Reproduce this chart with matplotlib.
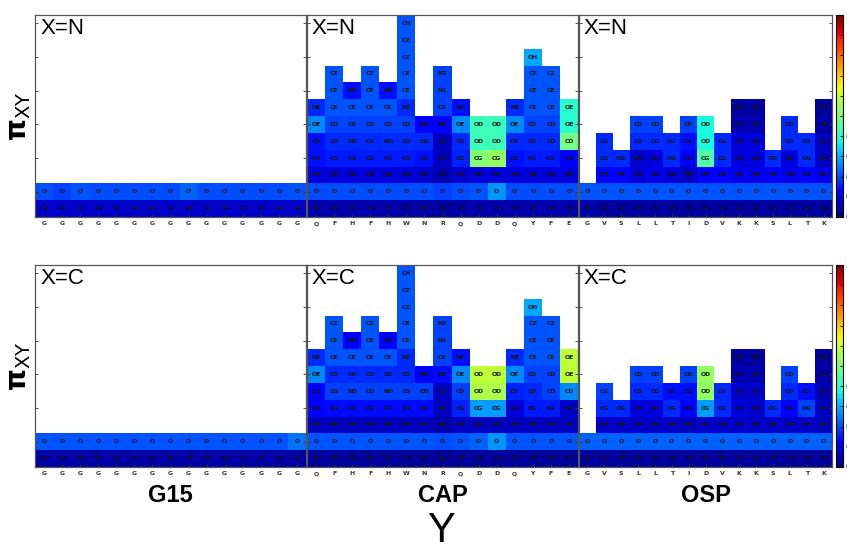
import matplotlib
matplotlib.use('Agg')
import matplotlib.pyplot as plt
import numpy as np

# ---------------- data ----------------
g15_residues = list("GGGGGGGGGGGGGGG")
cap_residues = list("QFHFHWNRQDDQYFE")
osp_residues = list("GVSLLTIDVKKSLTK")

atoms = {
    'G': ['N', 'O'],
    'Q': ['N', 'O', 'CB', 'CG', 'CD', 'OE', 'NE'],
    'F': ['N', 'O', 'CB', 'CG', 'CD', 'CD', 'CE', 'CE', 'CZ'],
    'H': ['N', 'O', 'CB', 'CG', 'ND', 'CD', 'CE', 'NE'],
    'W': ['N', 'O', 'CB', 'CG', 'CD', 'CD', 'NE', 'CE', 'CE', 'CZ', 'CZ', 'CH'],
    'N': ['N', 'O', 'CB', 'CG', 'OD', 'ND'],
    'R': ['N', 'O', 'CB', 'CG', 'CD', 'NE', 'CZ', 'N1', 'N2'],
    'D': ['N', 'O', 'CB', 'CG', 'OD', 'OD'],
    'Y': ['N', 'O', 'CB', 'CG', 'CD', 'CD', 'CE', 'CE', 'CZ', 'OH'],
    'E': ['N', 'O', 'CB', 'CG', 'CD', 'OE', 'OE'],
    'V': ['N', 'O', 'CB', 'CG', 'CG'],
    'S': ['N', 'O', 'CB', 'OG'],
    'L': ['N', 'O', 'CB', 'CG', 'CD', 'CD'],
    'T': ['N', 'O', 'CB', 'OG', 'CG'],
    'I': ['N', 'O', 'CB', 'CG', 'CG', 'CD'],
    'K': ['N', 'O', 'CB', 'CG', 'CD', 'CE', 'NZ'],
}

# values per column, bottom (N) to top
g15_N_values = [[0.13, 0.40], [0.13, 0.38], [0.13, 0.42], [0.13, 0.40], [0.13, 0.40],
                [0.13, 0.40], [0.13, 0.40], [0.13, 0.40], [0.13, 0.44], [0.13, 0.40],
                [0.13, 0.40], [0.13, 0.40], [0.13, 0.40], [0.13, 0.40], [0.13, 0.42]]
g15_C_values = [[0.07, 0.42], [0.07, 0.42], [0.07, 0.42], [0.07, 0.42], [0.07, 0.42],
                [0.07, 0.42], [0.07, 0.42], [0.07, 0.42], [0.07, 0.42], [0.07, 0.42],
                [0.07, 0.42], [0.07, 0.42], [0.07, 0.42], [0.07, 0.42], [0.07, 0.48]]

cap_N_values = [
    [0.08, 0.40, 0.16, 0.28, 0.28, 0.52, 0.33],
    [0.08, 0.40, 0.16, 0.30, 0.33, 0.38, 0.42, 0.42, 0.42],
    [0.08, 0.40, 0.16, 0.30, 0.33, 0.38, 0.42, 0.28],
    [0.08, 0.40, 0.16, 0.30, 0.33, 0.38, 0.42, 0.42, 0.42],
    [0.08, 0.40, 0.16, 0.30, 0.33, 0.38, 0.42, 0.28],
    [0.07, 0.40, 0.15, 0.30, 0.33, 0.38, 0.33, 0.42, 0.42, 0.42, 0.42, 0.42],
    [0.07, 0.40, 0.14, 0.28, 0.33, 0.24],
    [0.06, 0.38, 0.09, 0.11, 0.11, 0.24, 0.38, 0.38, 0.38],
    [0.07, 0.40, 0.14, 0.32, 0.33, 0.52, 0.28],
    [0.08, 0.42, 0.16, 1.02, 0.85, 0.85],
    [0.08, 0.54, 0.16, 1.06, 0.85, 0.85],
    [0.08, 0.40, 0.16, 0.28, 0.33, 0.52, 0.33],
    [0.08, 0.40, 0.16, 0.30, 0.33, 0.38, 0.42, 0.42, 0.42, 0.58],
    [0.08, 0.40, 0.16, 0.30, 0.33, 0.38, 0.42, 0.42, 0.42],
    [0.08, 0.40, 0.16, 0.22, 0.98, 0.80, 0.80],
]
cap_C_values = [
    [0.05, 0.42, 0.11, 0.22, 0.22, 0.52, 0.33],
    [0.05, 0.42, 0.11, 0.27, 0.38, 0.33, 0.42, 0.42, 0.42],
    [0.05, 0.42, 0.11, 0.27, 0.38, 0.33, 0.42, 0.22],
    [0.05, 0.42, 0.11, 0.27, 0.38, 0.33, 0.42, 0.42, 0.42],
    [0.05, 0.42, 0.11, 0.27, 0.38, 0.33, 0.42, 0.22],
    [0.05, 0.42, 0.11, 0.27, 0.38, 0.33, 0.33, 0.42, 0.42, 0.42, 0.42, 0.42],
    [0.05, 0.42, 0.11, 0.27, 0.38, 0.22],
    [0.04, 0.40, 0.08, 0.11, 0.11, 0.27, 0.38, 0.38, 0.38],
    [0.05, 0.42, 0.11, 0.32, 0.38, 0.52, 0.28],
    [0.05, 0.44, 0.11, 0.56, 1.12, 1.16],
    [0.05, 0.54, 0.11, 0.56, 1.12, 1.16],
    [0.05, 0.42, 0.11, 0.16, 0.32, 0.52, 0.33],
    [0.05, 0.42, 0.11, 0.30, 0.33, 0.38, 0.42, 0.42, 0.42, 0.58],
    [0.05, 0.42, 0.11, 0.30, 0.38, 0.38, 0.42, 0.42, 0.42],
    [0.05, 0.42, 0.11, 0.13, 0.52, 1.16, 1.16],
]

osp_N_values = [
    [0.08, 0.42],
    [0.06, 0.42, 0.22, 0.33, 0.33],
    [0.06, 0.42, 0.22, 0.33],
    [0.06, 0.42, 0.16, 0.13, 0.33, 0.38],
    [0.06, 0.42, 0.19, 0.16, 0.33, 0.38],
    [0.06, 0.42, 0.16, 0.33, 0.33],
    [0.06, 0.42, 0.11, 0.22, 0.28, 0.38],
    [0.06, 0.42, 0.24, 0.90, 0.76, 0.76],
    [0.06, 0.42, 0.22, 0.33, 0.33],
    [0.06, 0.42, 0.19, 0.16, 0.16, 0.09, 0.07],
    [0.06, 0.42, 0.19, 0.16, 0.16, 0.09, 0.07],
    [0.06, 0.42, 0.24, 0.33],
    [0.06, 0.42, 0.19, 0.16, 0.33, 0.33],
    [0.06, 0.42, 0.22, 0.33, 0.33],
    [0.06, 0.42, 0.19, 0.11, 0.11, 0.07, 0.06],
]
osp_C_values = [
    [0.05, 0.44],
    [0.05, 0.44, 0.13, 0.33, 0.38],
    [0.05, 0.44, 0.13, 0.33],
    [0.05, 0.44, 0.13, 0.16, 0.33, 0.38],
    [0.05, 0.44, 0.13, 0.16, 0.33, 0.38],
    [0.05, 0.44, 0.13, 0.33, 0.28],
    [0.05, 0.44, 0.11, 0.22, 0.28, 0.38],
    [0.05, 0.44, 0.13, 0.56, 1.06, 1.06],
    [0.05, 0.44, 0.13, 0.33, 0.33],
    [0.05, 0.44, 0.13, 0.16, 0.13, 0.09, 0.07],
    [0.05, 0.44, 0.13, 0.13, 0.13, 0.09, 0.07],
    [0.05, 0.44, 0.13, 0.33],
    [0.05, 0.44, 0.13, 0.22, 0.33, 0.38],
    [0.05, 0.44, 0.13, 0.38, 0.28],
    [0.05, 0.44, 0.11, 0.11, 0.09, 0.07, 0.06],
]

panel_titles = ["G15", "CAP", "OSP"]
row_titles = ["X=N", "X=C"]
cbar_ticks = [0, 0.2, 0.4, 0.6, 0.8, 1.0, 1.2, 1.4, 1.6, 1.8, 2.0]

# ---------------- figure ----------------
W, H = 847, 548
fig = plt.figure(figsize=(W / 100, H / 100), dpi=100)

def rect(x0, x1, y0, y1):
    return [x0 / W, 1 - y1 / H, (x1 - x0) / W, (y1 - y0) / H]

col_x = [(35, 306), (307, 578), (579, 832)]
row_y = [(15, 217), (265, 467)]
NROW = 12
narrow = ['Liberation Sans Narrow', 'Liberation Sans', 'DejaVu Sans']

panels = [
    [(g15_residues, g15_N_values), (cap_residues, cap_N_values), (osp_residues, osp_N_values)],
    [(g15_residues, g15_C_values), (cap_residues, cap_C_values), (osp_residues, osp_C_values)],
]

for r in range(2):
    mesh = None
    for c in range(3):
        residues, values = panels[r][c]
        ax = fig.add_axes(rect(col_x[c][0], col_x[c][1], row_y[r][0], row_y[r][1]))
        ncol = len(residues)
        grid = np.full((NROW, ncol), np.nan)
        for j, (res, vals) in enumerate(zip(residues, values)):
            labs = atoms[res]
            for i, v in enumerate(vals):
                grid[i, j] = v
                ax.text(j + 0.5, i + 0.5, labs[i], ha='center', va='center',
                        fontsize=4.4, fontweight='bold', color='#151515',
                        family='DejaVu Sans')
        mesh = ax.pcolormesh(np.arange(ncol + 1), np.arange(NROW + 1),
                             np.ma.masked_invalid(grid), cmap='jet', vmin=0, vmax=2)
        ax.set_xlim(0, ncol)
        ax.set_ylim(0, NROW)
        ax.set_xticks(np.arange(ncol) + 0.5)
        ax.set_xticklabels(residues, fontsize=4.5, fontweight='bold', color='#333333')
        ax.set_yticks(np.arange(1, NROW, 2) + 0.5)
        ax.set_yticklabels([])
        ax.tick_params(axis='x', direction='in', length=2.5, width=0.6, pad=3,
                       bottom=True, top=False, color='#333333')
        ax.tick_params(axis='y', direction='in', length=2.5, width=0.6,
                       left=True, right=True, color='#333333')
        for s in ax.spines.values():
            s.set_color('#555555')
            s.set_linewidth(0.9)
        ax.text(5 / 271, 1 - 3 / 202, row_titles[r], transform=ax.transAxes,
                ha='left', va='top', fontsize=16, family=['Liberation Sans', 'DejaVu Sans'])
    cax = fig.add_axes(rect(836, 843, row_y[r][0], row_y[r][1]))
    cb = fig.colorbar(mesh, cax=cax, ticks=cbar_ticks)
    cb.ax.set_yticklabels([('%g' % t) for t in cbar_ticks])
    cb.ax.tick_params(direction='in', length=2, width=0.6, labelsize=6, pad=2)
    cb.outline.set_linewidth(0.8)
    # pi_XY label
    yc = (row_y[r][0] + row_y[r][1]) / 2
    fig.text(19 / W, 1 - yc / H, r'$\mathbf{\pi}_{\mathrm{XY}}$', rotation=90,
             ha='center', va='center', fontsize=20)

for c in range(3):
    xc = (col_x[c][0] + col_x[c][1]) / 2
    fig.text(xc / W, 1 - 495 / H, panel_titles[c], ha='center', va='center',
             fontsize=17, fontweight='bold', family=narrow)

fig.text(441 / W, 1 - 531 / H, 'Y', ha='center', va='center', fontsize=30, family=narrow)

fig.savefig('out.png', dpi=100)
